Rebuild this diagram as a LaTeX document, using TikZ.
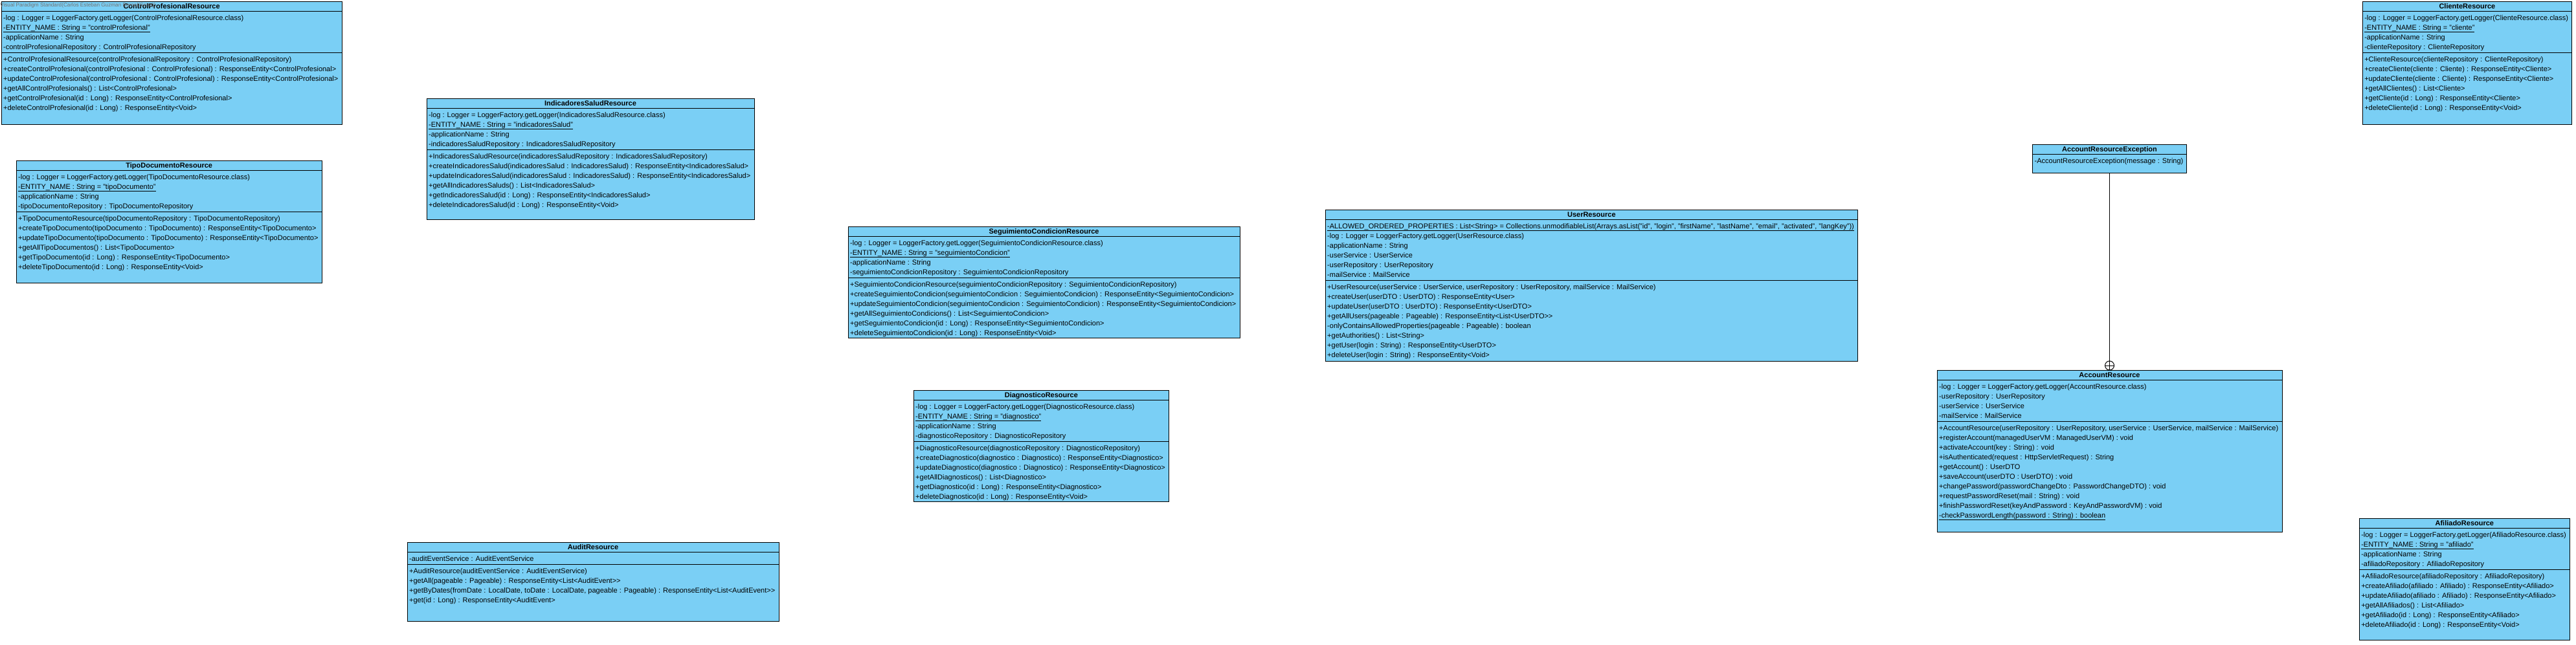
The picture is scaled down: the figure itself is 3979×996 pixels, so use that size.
\documentclass[tikz,border=0pt]{standalone}
\usepackage{fontspec}
\setmainfont{Liberation Sans}
\usetikzlibrary{calc}
\definecolor{vpblue}{RGB}{122,207,245}
\newcommand\clsfont{\fontsize{11}{13}\selectfont}
\tikzset{
  clsbox/.style={draw=black, fill=vpblue, line width=1pt, inner sep=0pt, outer sep=0pt},
  clsline/.style={draw=black, line width=1pt},
  clstitle/.style={anchor=base, inner sep=0pt, font=\clsfont\bfseries},
  clstext/.style={anchor=base west, inner sep=0pt, font=\clsfont},
  wmark/.style={anchor=base west, inner sep=0pt, text=black!55, font=\fontsize{8.2}{9}\selectfont},
}
\newdimen\clsmaxw
\newbox\clsmeasure
\newcommand\clsmeas[1]{\setbox\clsmeasure=\hbox{#1}\ifdim\wd\clsmeasure>\clsmaxw\global\clsmaxw=\wd\clsmeasure\relax\fi}
% #1 name, #2 x, #3 y, #4 h, #5 title, #6 number of attributes, #7 attributes, #8 operations
\newcommand\umlcls[8]{%
  \global\clsmaxw=0pt\relax
  \node[clstext] (#1-m) at (#2,#3) {\foreach \ctext in {#7} {\clsmeas{\ctext}}\foreach \ctext in {#8} {\clsmeas{\ctext}}};
  \edef\clsWraw{\the\clsmaxw}%
  \pgfmathsetmacro\clsW{\clsWraw+9}%
  \node[clsbox, minimum width=\clsW pt, minimum height=#4pt, anchor=north west] (#1) at (#2,#3) {};
  \node[clstitle] (#1-t) at (#2+\clsW/2, #3+11.5) {#5};
  \draw[clsline] (#2,#3+15) -- (#2+\clsW,#3+15);
  \foreach \ctext [count=\cidx] in {#7} {
    \node[clstext] (#1-a\cidx) at (#2+3, #3+14+15*\cidx) {\ctext};
  }
  \draw[clsline] (#2,#3+19+15*#6) -- (#2+\clsW,#3+19+15*#6);
  \foreach \ctext [count=\cidx] in {#8} {
    \node[clstext] (#1-o\cidx) at (#2+3, #3+18+15*#6+15*\cidx) {\ctext};
  }
}
\begin{document}
\begin{tikzpicture}[x=1pt, y=-1pt]
\useasboundingbox[fill=white] (0,0) rectangle (3979,996);

\umlcls{cp}{2}{2}{190}{ControlProfesionalResource}{4}{%
  -log : Logger = LoggerFactory.getLogger(ControlProfesionalResource.class),
  \underline{-ENTITY\_NAME : String = "controlProfesional"},
  -applicationName : String,
  -controlProfesionalRepository : ControlProfesionalRepository}{%
  +ControlProfesionalResource(controlProfesionalRepository : ControlProfesionalRepository),
  +createControlProfesional(controlProfesional : ControlProfesional) : ResponseEntity<ControlProfesional>,
  +updateControlProfesional(controlProfesional : ControlProfesional) : ResponseEntity<ControlProfesional>,
  +getAllControlProfesionals() : List<ControlProfesional>,
  +getControlProfesional(id : Long) : ResponseEntity<ControlProfesional>,
  +deleteControlProfesional(id : Long) : ResponseEntity<Void>}
\node[wmark] (wm) at (0,10) {Visual Paradigm Standard(Carlos Esteban Guzman Bernal(Sena))};

\umlcls{td}{25}{248}{189}{TipoDocumentoResource}{4}{%
  -log : Logger = LoggerFactory.getLogger(TipoDocumentoResource.class),
  \underline{-ENTITY\_NAME : String = "tipoDocumento"},
  -applicationName : String,
  -tipoDocumentoRepository : TipoDocumentoRepository}{%
  +TipoDocumentoResource(tipoDocumentoRepository : TipoDocumentoRepository),
  +createTipoDocumento(tipoDocumento : TipoDocumento) : ResponseEntity<TipoDocumento>,
  +updateTipoDocumento(tipoDocumento : TipoDocumento) : ResponseEntity<TipoDocumento>,
  +getAllTipoDocumentos() : List<TipoDocumento>,
  +getTipoDocumento(id : Long) : ResponseEntity<TipoDocumento>,
  +deleteTipoDocumento(id : Long) : ResponseEntity<Void>}

\umlcls{is}{659}{152}{187}{IndicadoresSaludResource}{4}{%
  -log : Logger = LoggerFactory.getLogger(IndicadoresSaludResource.class),
  \underline{-ENTITY\_NAME : String = "indicadoresSalud"},
  -applicationName : String,
  -indicadoresSaludRepository : IndicadoresSaludRepository}{%
  +IndicadoresSaludResource(indicadoresSaludRepository : IndicadoresSaludRepository),
  +createIndicadoresSalud(indicadoresSalud : IndicadoresSalud) : ResponseEntity<IndicadoresSalud>,
  +updateIndicadoresSalud(indicadoresSalud : IndicadoresSalud) : ResponseEntity<IndicadoresSalud>,
  +getAllIndicadoresSaluds() : List<IndicadoresSalud>,
  +getIndicadoresSalud(id : Long) : ResponseEntity<IndicadoresSalud>,
  +deleteIndicadoresSalud(id : Long) : ResponseEntity<Void>}

\umlcls{sc}{1310}{350}{172}{SeguimientoCondicionResource}{4}{%
  -log : Logger = LoggerFactory.getLogger(SeguimientoCondicionResource.class),
  \underline{-ENTITY\_NAME : String = "seguimientoCondicion"},
  -applicationName : String,
  -seguimientoCondicionRepository : SeguimientoCondicionRepository}{%
  +SeguimientoCondicionResource(seguimientoCondicionRepository : SeguimientoCondicionRepository),
  +createSeguimientoCondicion(seguimientoCondicion : SeguimientoCondicion) : ResponseEntity<SeguimientoCondicion>,
  +updateSeguimientoCondicion(seguimientoCondicion : SeguimientoCondicion) : ResponseEntity<SeguimientoCondicion>,
  +getAllSeguimientoCondicions() : List<SeguimientoCondicion>,
  +getSeguimientoCondicion(id : Long) : ResponseEntity<SeguimientoCondicion>,
  +deleteSeguimientoCondicion(id : Long) : ResponseEntity<Void>}

\umlcls{ur}{2047}{324}{234}{UserResource}{6}{%
  {\underline{-ALLOWED\_ORDERED\_PROPERTIES : List<String> = Collections.unmodifiableList(Arrays.asList("id", "login", "firstName", "lastName", "email", "activated", "langKey"))}},
  -log : Logger = LoggerFactory.getLogger(UserResource.class),
  -applicationName : String,
  -userService : UserService,
  -userRepository : UserRepository,
  -mailService : MailService}{%
  {+UserResource(userService : UserService, userRepository : UserRepository, mailService : MailService)},
  +createUser(userDTO : UserDTO) : ResponseEntity<User>,
  +updateUser(userDTO : UserDTO) : ResponseEntity<UserDTO>,
  +getAllUsers(pageable : Pageable) : ResponseEntity<List<UserDTO>{}>,
  -onlyContainsAllowedProperties(pageable : Pageable) : boolean,
  +getAuthorities() : List<String>,
  +getUser(login : String) : ResponseEntity<UserDTO>,
  +deleteUser(login : String) : ResponseEntity<Void>}

\umlcls{dg}{1411}{603}{172}{DiagnosticoResource}{4}{%
  -log : Logger = LoggerFactory.getLogger(DiagnosticoResource.class),
  \underline{-ENTITY\_NAME : String = "diagnostico"},
  -applicationName : String,
  -diagnosticoRepository : DiagnosticoRepository}{%
  +DiagnosticoResource(diagnosticoRepository : DiagnosticoRepository),
  +createDiagnostico(diagnostico : Diagnostico) : ResponseEntity<Diagnostico>,
  +updateDiagnostico(diagnostico : Diagnostico) : ResponseEntity<Diagnostico>,
  +getAllDiagnosticos() : List<Diagnostico>,
  +getDiagnostico(id : Long) : ResponseEntity<Diagnostico>,
  +deleteDiagnostico(id : Long) : ResponseEntity<Void>}

\umlcls{au}{629}{838}{122}{AuditResource}{1}{%
  -auditEventService : AuditEventService}{%
  +AuditResource(auditEventService : AuditEventService),
  +getAll(pageable : Pageable) : ResponseEntity<List<AuditEvent>{}>,
  {+getByDates(fromDate : LocalDate, toDate : LocalDate, pageable : Pageable) : ResponseEntity<List<AuditEvent>{}>},
  +get(id : Long) : ResponseEntity<AuditEvent>}

\umlcls{ac}{2992}{572}{250}{AccountResource}{4}{%
  -log : Logger = LoggerFactory.getLogger(AccountResource.class),
  -userRepository : UserRepository,
  -userService : UserService,
  -mailService : MailService}{%
  {+AccountResource(userRepository : UserRepository, userService : UserService, mailService : MailService)},
  +registerAccount(managedUserVM : ManagedUserVM) : void,
  +activateAccount(key : String) : void,
  +isAuthenticated(request : HttpServletRequest) : String,
  +getAccount() : UserDTO,
  +saveAccount(userDTO : UserDTO) : void,
  +changePassword(passwordChangeDto : PasswordChangeDTO) : void,
  +requestPasswordReset(mail : String) : void,
  +finishPasswordReset(keyAndPassword : KeyAndPasswordVM) : void,
  \underline{-checkPasswordLength(password : String) : boolean}}

% AccountResourceException (title + operations), centred above AccountResource
\coordinate (exctop) at (0,223);
\node[clsbox, minimum width=238pt, minimum height=44pt, anchor=north] (exc) at (ac.north |- exctop) {};
\path (exc.north) ++(0,11.5) node[clstitle] (exc-t) {AccountResourceException};
\draw[clsline] ($(exc.north west)+(0,15)$) -- ($(exc.north east)+(0,15)$);
\path (exc.north west) ++(3,29) node[clstext] (exc-o1) {-AccountResourceException(message : String)};

\umlcls{cl}{3649}{2}{190}{ClienteResource}{4}{%
  -log : Logger = LoggerFactory.getLogger(ClienteResource.class),
  \underline{-ENTITY\_NAME : String = "cliente"},
  -applicationName : String,
  -clienteRepository : ClienteRepository}{%
  +ClienteResource(clienteRepository : ClienteRepository),
  +createCliente(cliente : Cliente) : ResponseEntity<Cliente>,
  +updateCliente(cliente : Cliente) : ResponseEntity<Cliente>,
  +getAllClientes() : List<Cliente>,
  +getCliente(id : Long) : ResponseEntity<Cliente>,
  +deleteCliente(id : Long) : ResponseEntity<Void>}

\umlcls{af}{3644}{801}{188}{AfiliadoResource}{4}{%
  -log : Logger = LoggerFactory.getLogger(AfiliadoResource.class),
  \underline{-ENTITY\_NAME : String = "afiliado"},
  -applicationName : String,
  -afiliadoRepository : AfiliadoRepository}{%
  +AfiliadoResource(afiliadoRepository : AfiliadoRepository),
  +createAfiliado(afiliado : Afiliado) : ResponseEntity<Afiliado>,
  +updateAfiliado(afiliado : Afiliado) : ResponseEntity<Afiliado>,
  +getAllAfiliados() : List<Afiliado>,
  +getAfiliado(id : Long) : ResponseEntity<Afiliado>,
  +deleteAfiliado(id : Long) : ResponseEntity<Void>}

% nesting connector
\node[circle, draw=black, fill=white, line width=1pt, minimum size=14pt, inner sep=0pt] (nest) at ($(ac.north)+(0,-7)$) {};
\draw[clsline] (nest.north) -- (nest.south) (nest.west) -- (nest.east);
\draw[clsline] (exc.south) -- (nest.north);
\end{tikzpicture}
\end{document}
